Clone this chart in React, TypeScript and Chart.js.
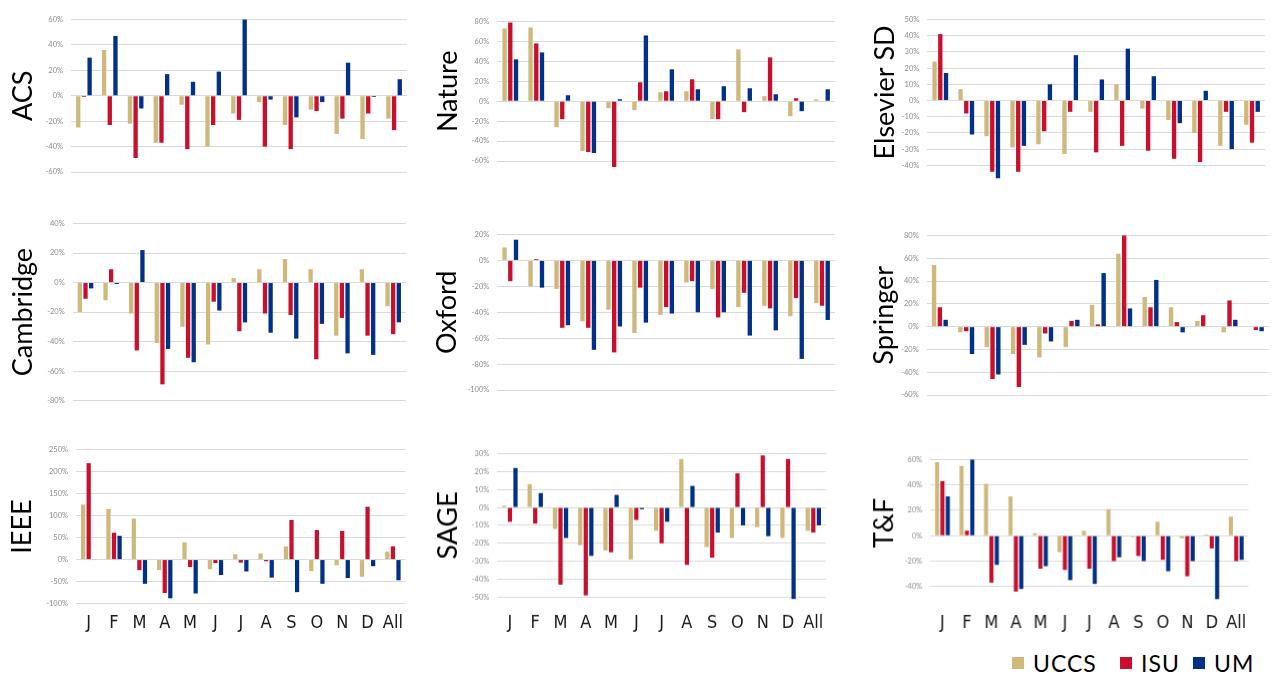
import React, { useEffect, useRef } from "react";
import { Chart, registerables } from "chart.js";

Chart.register(...registerables);

// ---------- data ----------
const categories = ["J", "F", "M", "A", "M", "J", "J", "A", "S", "O", "N", "D", "All"];
const seriesNames = ["UCCS", "ISU", "UM"];
const seriesColors = ["#CFB87C", "#C8102E", "#003087"];

const acsUccs = [-25, 36, -22, -37, -7, -40, -14, -5, -23, -11, -30, -34, -18];
const acsIsu = [-1, -23, -49, -37, -42, -23, -19, -40, -42, -12, -18, -14, -27];
const acsUm = [30, 47, -10, 17, 11, 19, 60, -3, -17, -5, 26, -1, 13];

const natureUccs = [73, 74, -26, -50, -7, -9, 9, 10, -18, 52, 5, -15, 2];
const natureIsu = [79, 58, -18, -51, -66, 19, 10, 22, -18, -11, 44, 3, 0];
const natureUm = [42, 49, 6, -52, 2, 66, 32, 12, 15, 13, 7, -10, 12];

const elsevierUccs = [24, 7, -22, -29, -27, -33, -7, 10, -5, -12, -20, -28, -15];
const elsevierIsu = [41, -8, -44, -44, -19, -7, -32, -28, -31, -36, -38, -7, -26];
const elsevierUm = [17, -21, -48, -28, 10, 28, 13, 32, 15, -14, 6, -30, -7];

const cambridgeUccs = [-20, -12, -21, -41, -30, -42, 3, 9, 16, 9, -36, 9, -16];
const cambridgeIsu = [-11, 9, -46, -69, -51, -13, -33, -21, -22, -52, -24, -36, -35];
const cambridgeUm = [-4, -1, 22, -45, -54, -19, -27, -34, -38, -28, -48, -49, -27];

const oxfordUccs = [10, -20, -22, -47, -38, -56, -42, -17, -22, -36, -35, -43, -33];
const oxfordIsu = [-16, 1, -52, -52, -71, -21, -36, -16, -44, -25, -37, -29, -35];
const oxfordUm = [16, -21, -50, -69, -51, -48, -41, -40, -40, -58, -54, -76, -46];

const springerUccs = [54, -5, -18, -24, -27, -18, 19, 64, 26, 17, 5, -5, 0];
const springerIsu = [17, -4, -46, -53, -6, 5, 2, 80, 17, 4, 10, 23, -3];
const springerUm = [6, -24, -42, -16, -13, 6, 47, 16, 41, -5, 0, 6, -4];

const ieeeUccs = [125, 115, 93, -24, 39, -22, 12, 14, 30, -26, -13, -39, 18];
const ieeeIsu = [219, 61, -24, -76, -17, -8, -7, -4, 90, 67, 65, 120, 30];
const ieeeUm = [1, 54, -55, -88, -77, -35, -27, -41, -74, -55, -42, -15, -47];

const sageUccs = [1, 13, -12, -21, -24, -29, -13, 27, -22, -17, -11, -17, -13];
const sageIsu = [-8, -9, -43, -49, -25, -7, -20, -32, -28, 19, 29, 27, -14];
const sageUm = [22, 8, -17, -27, 7, -1, -8, 12, -14, -10, -16, -51, -10];

const tfUccs = [58, 55, 41, 31, 2, -13, 4, 21, -1, 11, -2, 1, 15];
const tfIsu = [43, 4, -37, -44, -26, -27, -26, -20, -16, -19, -32, -10, -20];
const tfUm = [31, 60, -23, -42, -24, -35, -38, -17, -20, -28, -20, -50, -19];

// ---------- layout ----------
type PanelCfg = {
  name: string;
  series: number[][];
  min: number;
  max: number;
  step: number;
  colLeft: number;
  plotLeft: number;
  plotRight: number;
  plotTop: number;
  plotBottom: number;
  titleX: number;
  bottomRow: boolean;
};

const panels: PanelCfg[] = [
  { name: "ACS", series: [acsUccs, acsIsu, acsUm], min: -60, max: 60, step: 20, colLeft: 0, plotLeft: 71, plotRight: 407, plotTop: 14.7, plotBottom: 171.7, titleX: 23, bottomRow: false },
  { name: "Nature", series: [natureUccs, natureIsu, natureUm], min: -60, max: 80, step: 20, colLeft: 420, plotLeft: 497.3, plotRight: 835, plotTop: 16.7, plotBottom: 160.7, titleX: 448, bottomRow: false },
  { name: "Elsevier SD", series: [elsevierUccs, elsevierIsu, elsevierUm], min: -40, max: 50, step: 10, colLeft: 850, plotLeft: 927.3, plotRight: 1265, plotTop: 14.7, plotBottom: 165, titleX: 885, bottomRow: false },
  { name: "Cambridge", series: [cambridgeUccs, cambridgeIsu, cambridgeUm], min: -80, max: 40, step: 20, colLeft: 0, plotLeft: 72.7, plotRight: 406, plotTop: 218.7, plotBottom: 400.3, titleX: 23, bottomRow: false },
  { name: "Oxford", series: [oxfordUccs, oxfordIsu, oxfordUm], min: -100, max: 20, step: 20, colLeft: 420, plotLeft: 497.3, plotRight: 835, plotTop: 230.3, plotBottom: 390.3, titleX: 447.5, bottomRow: false },
  { name: "Springer", series: [springerUccs, springerIsu, springerUm], min: -60, max: 80, step: 20, colLeft: 850, plotLeft: 926.7, plotRight: 1269, plotTop: 230.7, plotBottom: 394.7, titleX: 884, bottomRow: false },
  { name: "IEEE", series: [ieeeUccs, ieeeIsu, ieeeUm], min: -100, max: 250, step: 50, colLeft: 0, plotLeft: 76, plotRight: 408, plotTop: 444.7, plotBottom: 603.3, titleX: 22.5, bottomRow: true },
  { name: "SAGE", series: [sageUccs, sageIsu, sageUm], min: -50, max: 30, step: 10, colLeft: 420, plotLeft: 497.3, plotRight: 835, plotTop: 449.3, plotBottom: 596.7, titleX: 448, bottomRow: true },
  { name: "T&F", series: [tfUccs, tfIsu, tfUm], min: -40, max: 60, step: 20, colLeft: 850, plotLeft: 930, plotRight: 1267.7, plotTop: 455.3, plotBottom: 586, titleX: 884, bottomRow: true },
];

const LABEL_CENTER_Y = 623;
const TOP_PAD = 8;
const BOTTOM_PAD = 18;
const X_AXIS_H = 50;
const TITLE_FONT = 27;
const X_FONT = 18;

function Panel({ cfg }: { cfg: PanelCfg }) {
  const ref = useRef<HTMLCanvasElement | null>(null);
  const plotH = cfg.plotBottom - cfg.plotTop;
  const top = cfg.plotTop - TOP_PAD;
  const width = cfg.plotRight + 4 - cfg.colLeft;
  const height = TOP_PAD + plotH + (cfg.bottomRow ? X_AXIS_H : BOTTOM_PAD);

  useEffect(() => {
    if (!ref.current) return;
    const yWidth = cfg.plotLeft - cfg.colLeft;
    const titleOffset = cfg.titleX - cfg.colLeft - (TITLE_FONT * 1.2) / 2;
    const xLabelPad = LABEL_CENTER_Y - cfg.plotBottom - (X_FONT * 1.2) / 2;
    const chart = new Chart(ref.current, {
      type: "bar",
      data: {
        labels: categories,
        datasets: cfg.series.map((vals, i) => ({
          label: seriesNames[i],
          data: vals,
          backgroundColor: seriesColors[i],
          borderWidth: 0,
          categoryPercentage: 0.66,
          barPercentage: 0.76,
          clip: false as any,
        })),
      },
      options: {
        animation: false,
        responsive: true,
        maintainAspectRatio: false,
        layout: {
          padding: { top: TOP_PAD, right: 4, left: 0, bottom: cfg.bottomRow ? 0 : BOTTOM_PAD },
        },
        plugins: {
          legend: { display: false },
          tooltip: { enabled: false },
        },
        scales: {
          x: {
            display: cfg.bottomRow,
            grid: { display: false, drawTicks: false },
            border: { display: false },
            ticks: {
              padding: xLabelPad,
              color: "#1a1a1a",
              font: { family: "'Liberation Sans Narrow', 'DejaVu Sans Condensed', Lato, sans-serif", size: X_FONT },
              maxRotation: 0,
              autoSkip: false,
            },
            afterFit: (s: any) => {
              s.height = cfg.bottomRow ? X_AXIS_H : 0;
            },
          },
          y: {
            min: cfg.min,
            max: cfg.max,
            grid: { color: "#d9d9d9", lineWidth: 1, drawTicks: false },
            border: { display: false },
            ticks: {
              stepSize: cfg.step,
              padding: 8,
              color: "#8c8c8c",
              font: { family: "Lato, 'Open Sans', sans-serif", size: 7.5 },
              callback: (v: any) => `${v}%`,
            },
            title: {
              display: true,
              text: cfg.name,
              color: "#000",
              font: { family: "Lato, 'Open Sans', sans-serif", size: TITLE_FONT },
              padding: { top: titleOffset, bottom: 0 },
            },
            afterFit: (s: any) => {
              s.width = yWidth;
            },
          },
        },
      },
    });
    return () => chart.destroy();
  }, [cfg]);

  return (
    <div
      style={{
        position: "absolute",
        left: cfg.colLeft,
        top,
        width,
        height,
      }}
    >
      <canvas ref={ref} />
    </div>
  );
}

const legendItems = [
  { x: 1012, text: seriesNames[0], color: seriesColors[0] },
  { x: 1120, text: seriesNames[1], color: seriesColors[1] },
  { x: 1193, text: seriesNames[2], color: seriesColors[2] },
];

export default function App() {
  return (
    <div
      style={{
        position: "absolute",
        left: 0,
        top: 0,
        width: 1280,
        height: 674,
        background: "#fff",
        overflow: "hidden",
      }}
    >
      {panels.map((p) => (
        <Panel key={p.name} cfg={p} />
      ))}
      {legendItems.map((it) => (
        <div
          key={it.text}
          style={{
            position: "absolute",
            left: it.x,
            top: 648,
            height: 30,
            display: "flex",
            alignItems: "center",
            fontFamily: "Lato, 'Open Sans', sans-serif",
            fontSize: 23,
            color: "#000",
            whiteSpace: "nowrap",
          }}
        >
          <span style={{ display: "inline-block", width: 12, height: 12, background: it.color, marginRight: 9 }} />
          <span style={{ letterSpacing: 1 }}>{it.text}</span>
        </div>
      ))}
    </div>
  );
}
